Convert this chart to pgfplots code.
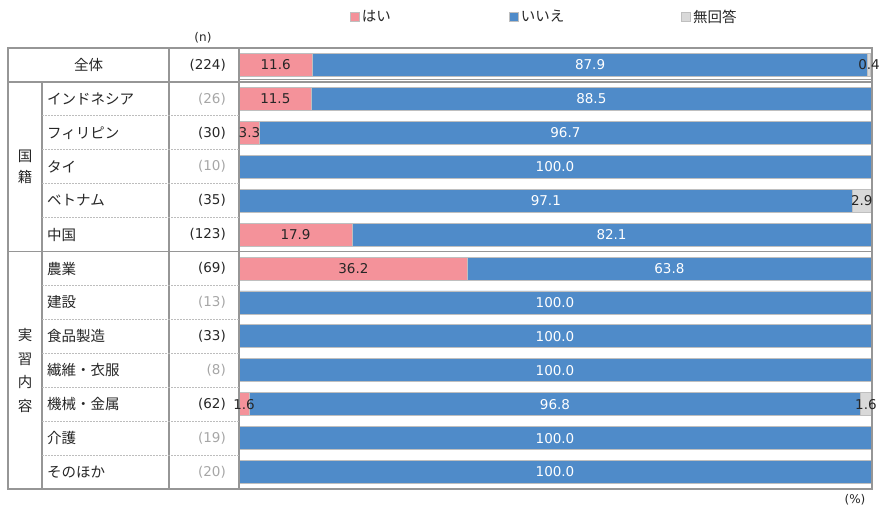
\documentclass[border=0pt]{standalone}
\usepackage{fontspec}
\setmainfont{Noto Sans CJK JP}
\newfontfamily\numfont{DejaVu Sans}
\usepackage{pgfplots}
\usepackage{pgfplotstable}
\pgfplotsset{compat=1.18}

\definecolor{yesc}{HTML}{F4929A}
\definecolor{noc}{HTML}{4F8BC9}
\definecolor{nac}{HTML}{D9D9D9}
\definecolor{barline}{HTML}{BFBFBF}
\definecolor{framec}{HTML}{969696}
\definecolor{dotc}{HTML}{BDBDBD}
\definecolor{lowN}{HTML}{A6A6A6}
\definecolor{txt}{HTML}{262626}

% shares (%) of answers per group: yes / no / no answer
\pgfplotstableread{
row yes  no    na
0   11.6 87.9  0.4
1   11.5 88.5  0
2   3.3  96.7  0
3   0    100.0 0
4   0    97.1  2.9
5   17.9 82.1  0
6   36.2 63.8  0
7   0    100.0 0
8   0    100.0 0
9   0    100.0 0
10  1.6  96.8  1.6
11  0    100.0 0
12  0    100.0 0
}\shares

\pgfplotsset{
  frame geom/.style={
    at={(8pt,22pt)}, anchor=south west, scale only axis,
    width=864pt, height=441pt,
    xmin=-36.55, xmax=100.16, ymin=-0.5, ymax=12.5, y dir=reverse,
    axis line style={draw=none}, major tick length=0pt, xtick=\empty,
    clip=false,
  },
  sq legend/.style={legend image code/.code={
    \filldraw[##1] (0pt,-4.5pt) rectangle (9pt,4.5pt);}},
}

\begin{document}
\begin{tikzpicture}
\useasboundingbox (0,0) rectangle (881pt,511pt);

% stacked bars with the row names
\begin{axis}[frame geom,
  xbar stacked, bar width=23pt,
  ytick={1,...,12},
  yticklabels={インドネシア,フィリピン,タイ,ベトナム,中国,農業,建設,食品製造,繊維・衣服,機械・金属,介護,そのほか},
  yticklabel style={anchor=west, inner sep=0pt, xshift=39pt,
    font=\fontsize{14.5}{14.5}\selectfont, text=txt},
  legend columns=3,
  legend style={at={(axis cs:17.56,-1.414)}, anchor=west, draw=none, fill=none,
    inner sep=0pt, font=\fontsize{14.5}{14.5}\selectfont, text=txt,
    /tikz/every even column/.append style={column sep=4pt},
    /tikz/every odd column/.append style={column sep=0pt}},
  legend cell align=left,
]
\addplot[fill=yesc, draw=barline, line width=0.8pt, sq legend] table[x=yes, y=row] {\shares};
\addlegendentry{はい\hspace*{112pt}}
\addplot[fill=noc, draw=barline, line width=0.8pt, sq legend] table[x=no, y=row] {\shares};
\addlegendentry{いいえ\hspace*{111pt}}
\addplot[fill=nac, draw=barline, line width=0.8pt, sq legend] table[x=na, y=row] {\shares};
\addlegendentry{無回答}
\end{axis}

% table frame, sample sizes and segment values
\begin{axis}[frame geom,
  ytick={0,...,12},
  yticklabels={(224),\textcolor{lowN}{(26)},(30),\textcolor{lowN}{(10)},(35),(123),(69),\textcolor{lowN}{(13)},(33),\textcolor{lowN}{(8)},(62),\textcolor{lowN}{(19)},\textcolor{lowN}{(20)}},
  yticklabel style={anchor=east, inner sep=0pt, xshift=218pt,
    font=\numfont\fontsize{13.5}{13.5}\selectfont, text=txt},
  nodes near coords={\pgfmathfloatifflags{\pgfplotspointmeta}{0}{}{\pgfmathprintnumber[fixed,fixed zerofill,precision=1,assume math mode=true]{\pgfplotspointmeta}}},
  every node near coord/.append style={anchor=center, inner sep=0pt, font=\numfont\fontsize{13.5}{13.5}\selectfont},
]
% solid frame lines
\draw[framec, line width=1.8pt] (axis cs:-36.55,-0.5) rectangle (axis cs:100.16,12.5);
\draw[framec, line width=1.8pt] (axis cs:-36.55,0.5) -- (axis cs:100.16,0.5);
\draw[framec, line width=1.3pt] (axis cs:0,0.42) -- (axis cs:100.16,0.42);
\draw[framec, line width=1.8pt] (axis cs:-36.55,5.5) -- (axis cs:100.16,5.5);
\draw[framec, line width=1.8pt] (axis cs:-31.17,0.5) -- (axis cs:-31.17,12.5);
\draw[framec, line width=1.8pt] (axis cs:-11.08,-0.5) -- (axis cs:-11.08,12.5);
\draw[framec, line width=1.8pt] (axis cs:0,-0.5) -- (axis cs:0,12.5);
% dotted row separators
\pgfplotsinvokeforeach{1.5,2.5,3.5,4.5,6.5,7.5,8.5,9.5,10.5,11.5}{
  \draw[dotc, line width=0.8pt, dash pattern=on 2pt off 1pt] (axis cs:-31.17,#1) -- (axis cs:0,#1);
}
% merged cells
\node[font=\fontsize{14.5}{14.5}\selectfont, text=txt] at (axis cs:-23.81,0) {全体};
\node[align=center, font=\fontsize{14.5}{20.5}\selectfont, text=txt] at (axis cs:-33.86,3) {国\\籍};
\node[align=center, font=\fontsize{14.5}{23.5}\selectfont, text=txt] at (axis cs:-33.86,9) {実\\習\\内\\容};
\node[font=\numfont\fontsize{12}{12}\selectfont, text=txt] at (axis cs:-5.70,-0.795) {(n)};
\node[font=\numfont\fontsize{12}{12}\selectfont, text=txt] at (axis cs:97.47,12.825) {(\%)};

% segment values at segment centres
\addplot[draw=none, mark=none, point meta=explicit, every node near coord/.append style={text=txt}]
  table[x expr=\thisrow{yes}/2, y=row, meta=yes] {\shares};
\addplot[draw=none, mark=none, point meta=explicit, every node near coord/.append style={text=white}]
  table[x expr=\thisrow{yes}+\thisrow{no}/2, y=row, meta=no] {\shares};
\addplot[draw=none, mark=none, point meta=explicit, every node near coord/.append style={text=txt}]
  table[x expr=\thisrow{yes}+\thisrow{no}+\thisrow{na}/2, y=row, meta=na] {\shares};
\end{axis}
\end{tikzpicture}
\end{document}
